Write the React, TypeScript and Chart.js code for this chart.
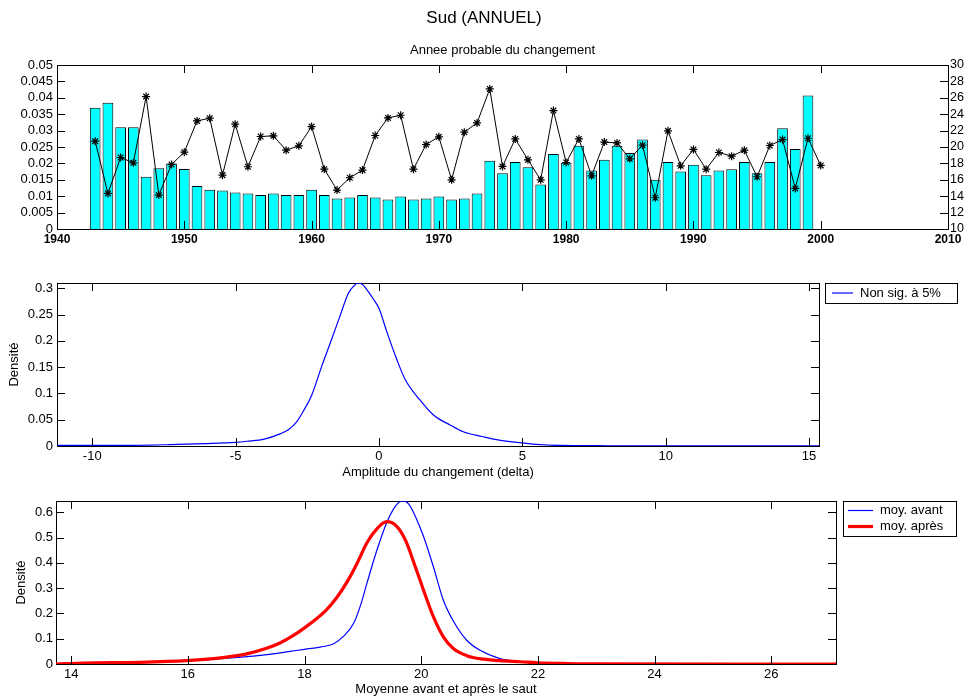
import React, { useEffect, useRef } from 'react';
import { Chart, registerables } from 'chart.js';

Chart.register(...registerables);

const FONT = "'Liberation Sans', Arial, Helvetica, sans-serif";
Chart.defaults.font.family = FONT;
Chart.defaults.color = '#000';

// ---------- Top panel: probable year of change ----------
const BAR_YEARS = [
  1943, 1944, 1945, 1946, 1947, 1948, 1949, 1950, 1951, 1952, 1953, 1954, 1955, 1956, 1957, 1958, 1959, 1960, 1961,
  1962, 1963, 1964, 1965, 1966, 1967, 1968, 1969, 1970, 1971, 1972, 1973, 1974, 1975, 1976, 1977, 1978, 1979, 1980,
  1981, 1982, 1983, 1984, 1985, 1986, 1987, 1988, 1989, 1990, 1991, 1992, 1993, 1994, 1995, 1996, 1997, 1998, 1999,
];
const BAR_PROB = [
  0.037, 0.0385, 0.031, 0.031, 0.0159, 0.0185, 0.02, 0.0183, 0.0131, 0.012, 0.0117, 0.0111, 0.0108, 0.0104, 0.0108,
  0.0104, 0.0104, 0.012, 0.0104, 0.0093, 0.0096, 0.0104, 0.0096, 0.009, 0.0099, 0.009, 0.0093, 0.0099, 0.009, 0.0093,
  0.0108, 0.0208, 0.017, 0.0204, 0.0188, 0.0136, 0.0229, 0.0202, 0.0254, 0.0178, 0.0211, 0.0254, 0.0232, 0.0273,
  0.015, 0.0204, 0.0175, 0.0196, 0.0164, 0.0178, 0.0182, 0.0204, 0.017, 0.0204, 0.0307, 0.0244, 0.0407,
];
const LINE_YEARS = [
  1943, 1944, 1945, 1946, 1947, 1948, 1949, 1950, 1951, 1952, 1953, 1954, 1955, 1956, 1957, 1958, 1959, 1960, 1961,
  1962, 1963, 1964, 1965, 1966, 1967, 1968, 1969, 1970, 1971, 1972, 1973, 1974, 1975, 1976, 1977, 1978, 1979, 1980,
  1981, 1982, 1983, 1984, 1985, 1986, 1987, 1988, 1989, 1990, 1991, 1992, 1993, 1994, 1995, 1996, 1997, 1998, 1999,
  2000,
];
const LINE_VALUES = [
  20.71, 14.34, 18.72, 18.07, 26.15, 14.14, 17.87, 19.37, 23.18, 23.51, 16.57, 22.78, 17.59, 21.28, 21.36, 19.61,
  20.14, 22.49, 17.3, 14.75, 16.25, 17.18, 21.4, 23.55, 23.87, 17.3, 20.3, 21.24, 16.0, 21.81, 22.94, 27.08, 17.63,
  20.99, 18.44, 16.0, 24.44, 18.11, 20.99, 16.49, 20.6, 20.5, 18.56, 20.22, 13.81, 21.97, 17.71, 19.7, 17.3, 19.33,
  18.88, 19.61, 16.37, 20.18, 20.91, 14.95, 21.07, 17.75,
];
const TOP_X_TICKS = [1940, 1950, 1960, 1970, 1980, 1990, 2000, 2010];
const TOP_LEFT_TICKS = [0, 0.005, 0.01, 0.015, 0.02, 0.025, 0.03, 0.035, 0.04, 0.045, 0.05];
const TOP_RIGHT_TICKS = [10, 12, 14, 16, 18, 20, 22, 24, 26, 28, 30];

// ---------- Middle panel: amplitude of change ----------
const DELTA_X = [
  -11.23, -9, -7.3, -6.1, -5, -4.6, -4.0, -3.45, -3.16, -2.87, -2.64, -2.35, -2.0, -1.65, -1.36, -1.07, -0.9, -0.72,
  -0.55, -0.43, -0.2, 0.0, 0.27, 0.62, 0.92, 1.43, 1.9, 2.48, 2.94, 3.6, 4.2, 5.0, 5.5, 6.3, 8, 10, 12, 15.35,
];
const DELTA_DENS = [
  0.001, 0.001, 0.0025, 0.0045, 0.007, 0.009, 0.013, 0.023, 0.031, 0.046, 0.066, 0.096, 0.151, 0.203, 0.247, 0.29,
  0.303, 0.31, 0.306, 0.298, 0.28, 0.262, 0.218, 0.165, 0.126, 0.0875, 0.059, 0.04, 0.027, 0.018, 0.011, 0.006,
  0.003, 0.001, 0.0005, 0.0003, 0.0002, 0.0001,
];
const DELTA_X_TICKS = [-10, -5, 0, 5, 10, 15];
const DELTA_Y_TICKS = [0, 0.05, 0.1, 0.15, 0.2, 0.25, 0.3];
const DELTA_X_MIN = -11.23;
const DELTA_X_MAX = 15.35;
const DELTA_Y_MAX = 0.31;

// ---------- Bottom panel: means before / after ----------
const AVANT_X = [
  13.74, 14.2, 15.2, 16.0, 16.8, 17.35, 17.75, 18.0, 18.27, 18.5, 18.67, 18.84, 18.95, 19.07, 19.24, 19.41, 19.55,
  19.67, 19.78, 20.01, 20.21, 20.38, 20.55, 20.78, 21.01, 21.35, 21.6, 22.0, 22.5, 23.0, 27.11,
];
const AVANT_Y = [
  0, 0.004, 0.006, 0.012, 0.025, 0.037, 0.05, 0.058, 0.067, 0.08, 0.11, 0.16, 0.225, 0.32, 0.45, 0.56, 0.622,
  0.645, 0.635, 0.523, 0.384, 0.252, 0.17, 0.094, 0.054, 0.021, 0.011, 0.005, 0.002, 0.0005, 0,
];
const APRES_X = [
  13.74, 14.21, 15.18, 15.98, 16.44, 16.78, 17.01, 17.35, 17.58, 17.81, 18.0, 18.21, 18.38, 18.55, 18.73, 18.9,
  19.07, 19.24, 19.41, 19.58, 19.73, 19.9, 20.04, 20.21, 20.38, 20.55, 20.78, 21.07, 21.35, 21.7, 22.0, 22.5, 23.0,
  27.11,
];
const APRES_Y = [
  0, 0.004, 0.0066, 0.013, 0.021, 0.031, 0.04, 0.062, 0.083, 0.113, 0.143, 0.18, 0.215, 0.262, 0.325, 0.398, 0.48,
  0.535, 0.563, 0.545, 0.49, 0.384, 0.292, 0.186, 0.107, 0.061, 0.033, 0.019, 0.013, 0.009, 0.005, 0.002, 0.0005, 0,
];
const MEAN_X_TICKS = [14, 16, 18, 20, 22, 24, 26];
const MEAN_Y_TICKS = [0, 0.1, 0.2, 0.3, 0.4, 0.5, 0.6];
const MEAN_X_MIN = 13.74;
const MEAN_X_MAX = 27.11;
const MEAN_Y_MAX = 0.645;

// ---------- helpers ----------
const fmt = (v: number) => String(Number(Number(v).toFixed(4)));
const fixedTicks = (vals: number[]) => (scale: any) => {
  scale.ticks = vals.map((v) => ({ value: v }));
};
const fixW = (w: number) => (scale: any) => {
  scale.width = w;
};
const fixH = (h: number) => (scale: any) => {
  scale.height = h;
};

function boxPlugin(xId: string, leftId: string, rightId: string, tickLen: number) {
  return {
    id: 'matlabBox',
    beforeDatasetsDraw(chart: any) {
      const { ctx, chartArea: a } = chart;
      ctx.save();
      ctx.strokeStyle = '#000';
      ctx.lineWidth = 1;
      ctx.strokeRect(Math.round(a.left) + 0.5, Math.round(a.top) + 0.5, Math.round(a.right - a.left), Math.round(a.bottom - a.top));
      ctx.restore();
    },
    afterDatasetsDraw(chart: any) {
      const { ctx, chartArea: a, scales } = chart;
      ctx.save();
      ctx.strokeStyle = '#000';
      ctx.lineWidth = 1;
      ctx.beginPath();
      const xs = scales[xId];
      xs.ticks.forEach((t: any) => {
        const p = Math.round(xs.getPixelForValue(t.value)) + 0.5;
        ctx.moveTo(p, a.bottom);
        ctx.lineTo(p, a.bottom - tickLen);
        ctx.moveTo(p, a.top);
        ctx.lineTo(p, a.top + tickLen);
      });
      const ls = scales[leftId];
      ls.ticks.forEach((t: any) => {
        const p = Math.round(ls.getPixelForValue(t.value)) + 0.5;
        ctx.moveTo(a.left, p);
        ctx.lineTo(a.left + tickLen, p);
      });
      const rs = scales[rightId];
      rs.ticks.forEach((t: any) => {
        const p = Math.round(rs.getPixelForValue(t.value)) + 0.5;
        ctx.moveTo(a.right, p);
        ctx.lineTo(a.right - tickLen, p);
      });
      ctx.stroke();
      ctx.restore();
    },
  };
}

type LegendItem = { label: string; color: string; lw: number };
function legendPlugin(items: LegendItem[], gap: number, w: number, h: number, firstRow: number, rowH: number, s0: number, s1: number, tx: number) {
  return {
    id: 'boxLegend',
    afterDraw(chart: any) {
      const { ctx, chartArea: a } = chart;
      const x = Math.round(a.right + gap);
      const y = Math.round(a.top);
      ctx.save();
      ctx.fillStyle = '#fff';
      ctx.fillRect(x, y, w, h);
      ctx.strokeStyle = '#000';
      ctx.lineWidth = 1;
      ctx.strokeRect(x + 0.5, y + 0.5, w, h);
      items.forEach((it, i) => {
        const cy = y + firstRow + i * rowH;
        ctx.strokeStyle = it.color;
        ctx.lineWidth = it.lw;
        ctx.beginPath();
        ctx.moveTo(x + s0, cy);
        ctx.lineTo(x + s1, cy);
        ctx.stroke();
        ctx.fillStyle = '#000';
        ctx.font = `13px ${FONT}`;
        ctx.textBaseline = 'middle';
        ctx.textAlign = 'left';
        ctx.fillText(it.label, x + tx, cy);
      });
      ctx.restore();
    },
  };
}

const noGrid = { display: false, drawTicks: false };
const noBorder = { display: false };

export default function App() {
  const r1 = useRef<HTMLCanvasElement>(null);
  const r2 = useRef<HTMLCanvasElement>(null);
  const r3 = useRef<HTMLCanvasElement>(null);

  useEffect(() => {
    const charts: Chart[] = [];

    // Top chart
    charts.push(
      new Chart(r1.current as HTMLCanvasElement, {
        type: 'bar',
        data: {
          datasets: [
            {
              type: 'line',
              label: 'annee',
              data: LINE_YEARS.map((x, i) => ({ x, y: LINE_VALUES[i] })),
              yAxisID: 'y1',
              xAxisID: 'x',
              borderColor: '#000',
              borderWidth: 1,
              tension: 0,
              pointStyle: 'star',
              pointRadius: 4,
              pointBorderColor: '#000',
              pointBorderWidth: 1.2,
              pointBackgroundColor: '#000',
              order: 1,
            } as any,
            {
              type: 'bar',
              label: 'prob',
              data: BAR_YEARS.map((x, i) => ({ x, y: BAR_PROB[i] })),
              yAxisID: 'y',
              xAxisID: 'x',
              backgroundColor: '#00FFFF',
              borderColor: '#000',
              borderWidth: 1,
              barPercentage: 0.84,
              categoryPercentage: 1,
              order: 2,
            } as any,
          ],
        },
        options: {
          responsive: false,
          animation: false,
          devicePixelRatio: 1,
          layout: { padding: 0 },
          plugins: {
            legend: { display: false },
            tooltip: { enabled: false },
            title: {
              display: true,
              text: 'Sud (ANNUEL)',
              color: '#000',
              font: { size: 17, weight: 'normal', lineHeight: '20px' },
              padding: { top: 8, bottom: 0 },
            },
            subtitle: {
              display: true,
              text: 'Annee probable du changement',
              color: '#000',
              fullSize: false,
              font: { size: 13, weight: 'normal', lineHeight: '16px' },
              padding: { top: 14.5, bottom: 6.5 },
            },
          },
          scales: {
            x: {
              type: 'linear',
              min: 1940,
              max: 2010,
              offset: false,
              grid: noGrid,
              border: noBorder,
              ticks: { autoSkip: false, maxRotation: 0, padding: 3, font: { size: 12, weight: 'bold' }, callback: (v: any) => String(v) },
              afterBuildTicks: fixedTicks(TOP_X_TICKS),
              afterFit: fixH(21),
            },
            y: {
              type: 'linear',
              position: 'left',
              min: 0,
              max: 0.05,
              grid: noGrid,
              border: noBorder,
              ticks: { autoSkip: false, padding: 4, font: { size: 13 }, callback: (v: any) => fmt(v) },
              afterBuildTicks: fixedTicks(TOP_LEFT_TICKS),
              afterFit: fixW(57),
            },
            y1: {
              type: 'linear',
              position: 'right',
              min: 10,
              max: 30,
              grid: noGrid,
              border: noBorder,
              ticks: { autoSkip: false, padding: 2, font: { size: 12.5 }, callback: (v: any) => fmt(v) },
              afterBuildTicks: fixedTicks(TOP_RIGHT_TICKS),
              afterFit: fixW(20),
            },
          },
        } as any,
        plugins: [boxPlugin('x', 'y', 'y1', 8)],
      })
    );

    // Middle chart
    charts.push(
      new Chart(r2.current as HTMLCanvasElement, {
        type: 'line',
        data: {
          datasets: [
            {
              label: 'Non sig. à 5%',
              data: DELTA_X.map((x, i) => ({ x, y: DELTA_DENS[i] })),
              borderColor: '#0000FF',
              borderWidth: 1.2,
              pointRadius: 0,
              cubicInterpolationMode: 'monotone',
              fill: false,
            },
          ],
        },
        options: {
          responsive: false,
          animation: false,
          devicePixelRatio: 1,
          layout: { padding: { top: 33, right: 149, left: 0, bottom: 0 } },
          plugins: { legend: { display: false }, tooltip: { enabled: false } },
          scales: {
            x: {
              type: 'linear',
              min: DELTA_X_MIN,
              max: DELTA_X_MAX,
              grid: noGrid,
              border: noBorder,
              ticks: { autoSkip: false, maxRotation: 0, padding: 3, font: { size: 13 }, callback: (v: any) => fmt(v) },
              afterBuildTicks: fixedTicks(DELTA_X_TICKS),
              title: { display: true, text: 'Amplitude du changement (delta)', font: { size: 13 }, padding: { top: 0, bottom: 2 } },
              afterFit: fixH(36),
            },
            y: {
              type: 'linear',
              min: 0,
              max: DELTA_Y_MAX,
              grid: noGrid,
              border: noBorder,
              ticks: { autoSkip: false, padding: 4, font: { size: 13 }, callback: (v: any) => fmt(v) },
              afterBuildTicks: fixedTicks(DELTA_Y_TICKS),
              title: { display: true, text: 'Densité', font: { size: 13 }, padding: { top: 7, bottom: 0 } },
              afterFit: fixW(57),
            },
          },
        } as any,
        plugins: [
          boxPlugin('x', 'y', 'y', 8),
          legendPlugin([{ label: 'Non sig. à 5%', color: '#0000FF', lw: 1.2 }], 6, 132, 20, 10, 16, 7, 28, 35),
        ],
      })
    );

    // Bottom chart
    charts.push(
      new Chart(r3.current as HTMLCanvasElement, {
        type: 'line',
        data: {
          datasets: [
            {
              label: 'moy. après',
              data: APRES_X.map((x, i) => ({ x, y: APRES_Y[i] })),
              borderColor: '#FF0000',
              borderWidth: 3.2,
              pointRadius: 0,
              cubicInterpolationMode: 'monotone',
              fill: false,
            },
            {
              label: 'moy. avant',
              data: AVANT_X.map((x, i) => ({ x, y: AVANT_Y[i] })),
              borderColor: '#0000FF',
              borderWidth: 1.2,
              pointRadius: 0,
              cubicInterpolationMode: 'monotone',
              fill: false,
            },
          ],
        },
        options: {
          responsive: false,
          animation: false,
          devicePixelRatio: 1,
          layout: { padding: { top: 19, right: 132, left: 0, bottom: 0 } },
          plugins: { legend: { display: false }, tooltip: { enabled: false } },
          scales: {
            x: {
              type: 'linear',
              min: MEAN_X_MIN,
              max: MEAN_X_MAX,
              grid: noGrid,
              border: noBorder,
              ticks: { autoSkip: false, maxRotation: 0, padding: 3, font: { size: 13 }, callback: (v: any) => fmt(v) },
              afterBuildTicks: fixedTicks(MEAN_X_TICKS),
              title: { display: true, text: 'Moyenne avant et après le saut', font: { size: 13 }, padding: { top: 0, bottom: 0.5 } },
              afterFit: fixH(34),
            },
            y: {
              type: 'linear',
              min: 0,
              max: MEAN_Y_MAX,
              grid: noGrid,
              border: noBorder,
              ticks: { autoSkip: false, padding: 3, font: { size: 13 }, callback: (v: any) => fmt(v) },
              afterBuildTicks: fixedTicks(MEAN_Y_TICKS),
              title: { display: true, text: 'Densité', font: { size: 13 }, padding: { top: 14, bottom: 0 } },
              afterFit: fixW(56),
            },
          },
        } as any,
        plugins: [
          boxPlugin('x', 'y', 'y', 8),
          legendPlugin(
            [
              { label: 'moy. avant', color: '#0000FF', lw: 1.2 },
              { label: 'moy. après', color: '#FF0000', lw: 3.2 },
            ],
            7,
            113,
            35,
            9.5,
            16,
            5,
            30,
            37
          ),
        ],
      })
    );

    return () => charts.forEach((c) => c.destroy());
  }, []);

  return (
    <div style={{ position: 'fixed', left: 0, top: 0, width: 968, height: 698, background: '#fff', overflow: 'hidden' }}>
      <canvas ref={r1} width={968} height={250} style={{ position: 'absolute', left: 0, top: 0, display: 'block' }} />
      <canvas ref={r2} width={968} height={232} style={{ position: 'absolute', left: 0, top: 250, display: 'block' }} />
      <canvas ref={r3} width={968} height={216} style={{ position: 'absolute', left: 0, top: 482, display: 'block' }} />
    </div>
  );
}
